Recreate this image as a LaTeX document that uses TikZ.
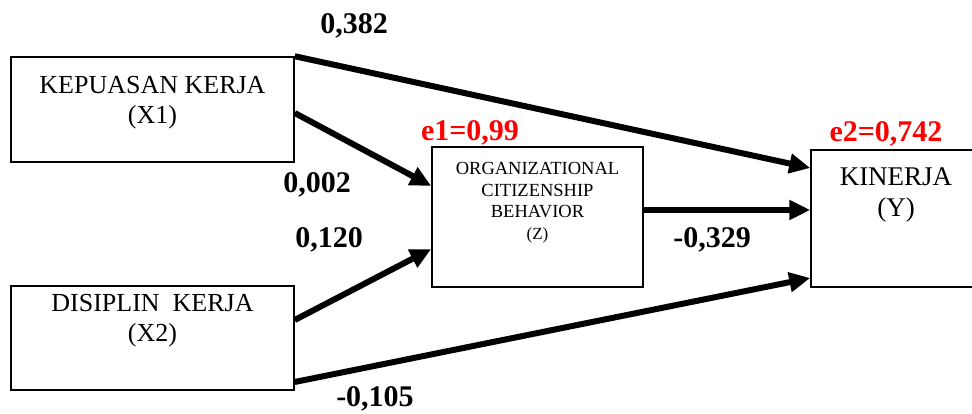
\documentclass[tikz,border=0pt]{standalone}
\usepackage{fontspec}
\setmainfont{Liberation Serif}
\usetikzlibrary{arrows.meta,positioning}

\tikzset{
  var/.style={draw, line width=1.5pt, inner sep=0pt},
  vartext/.style={align=center, inner sep=0pt, anchor=north, font=\fontsize{26}{30}\selectfont},
  effect/.style={line width=6pt, -{Triangle[length=21pt,width=19pt]}},
  coef/.style={anchor=base, inner sep=0pt, font=\fontsize{30}{36}\selectfont\bfseries},
  errterm/.style={coef, text=red}
}

\begin{document}
\begin{tikzpicture}[x=1pt,y=1pt]
\clip (0,0) rectangle (972,414);
%boxes
\node[var, minimum width=283pt, minimum height=105pt] (x1) at (152.5,304.5) {};
\node[var, minimum width=283pt, minimum height=104pt] (x2) at (152.5,76) {};
\node[var, minimum width=211pt, minimum height=140pt] (z) at (537.5,197) {};
\node[var, minimum width=170pt, minimum height=137pt] (y) at (896,195.5) {};
%texts
\node[vartext] (x1t) at ([yshift=-20pt]x1.north) {KEPUASAN KERJA\\(X1)};
\node[vartext] (x2t) at ([yshift=-9pt]x2.north) {DISIPLIN\ \ KERJA\\(X2)};
\node[vartext, font=\fontsize{18.5}{21.5}\selectfont] (zt) at ([yshift=-16pt]z.north)
  {ORGANIZATIONAL\\CITIZENSHIP\\BEHAVIOR\\{\fontsize{17}{21.5}\selectfont(Z)}};
\node[vartext, font=\fontsize{27}{31}\selectfont] (yt) at ([yshift=-18pt]y.north) {KINERJA\\(Y)};

%paths
\draw[effect] (x1.north east) -- ([yshift=50.5pt]y.west);
\draw[effect] ([yshift=-3.5pt]x1.east) -- ([yshift=31pt]z.west);
\draw[effect] ([yshift=18pt]x2.east) -- ([yshift=-32pt]z.west);
\draw[effect] ([yshift=7pt]z.east) -- ([yshift=7pt]z.east -| y.west);
\draw[effect] ([yshift=-44pt]x2.east) -- ([yshift=-59.5pt]y.west);

%coefficients
\node[coef] (b1) at (354,380) {0,382};
\node[coef] (b2) at (317,221) {0,002};
\node[coef] (b3) at (329,166) {0,120};
\node[coef] (b4) at (712,166) {-0,329};
\node[coef] (b5) at (375,7) {-0,105};
%errors
\node[errterm] (e1) at (470,273) {e1=0,99};
\node[errterm] (e2) at (886,272) {e2=0,742};
\end{tikzpicture}
\end{document}
